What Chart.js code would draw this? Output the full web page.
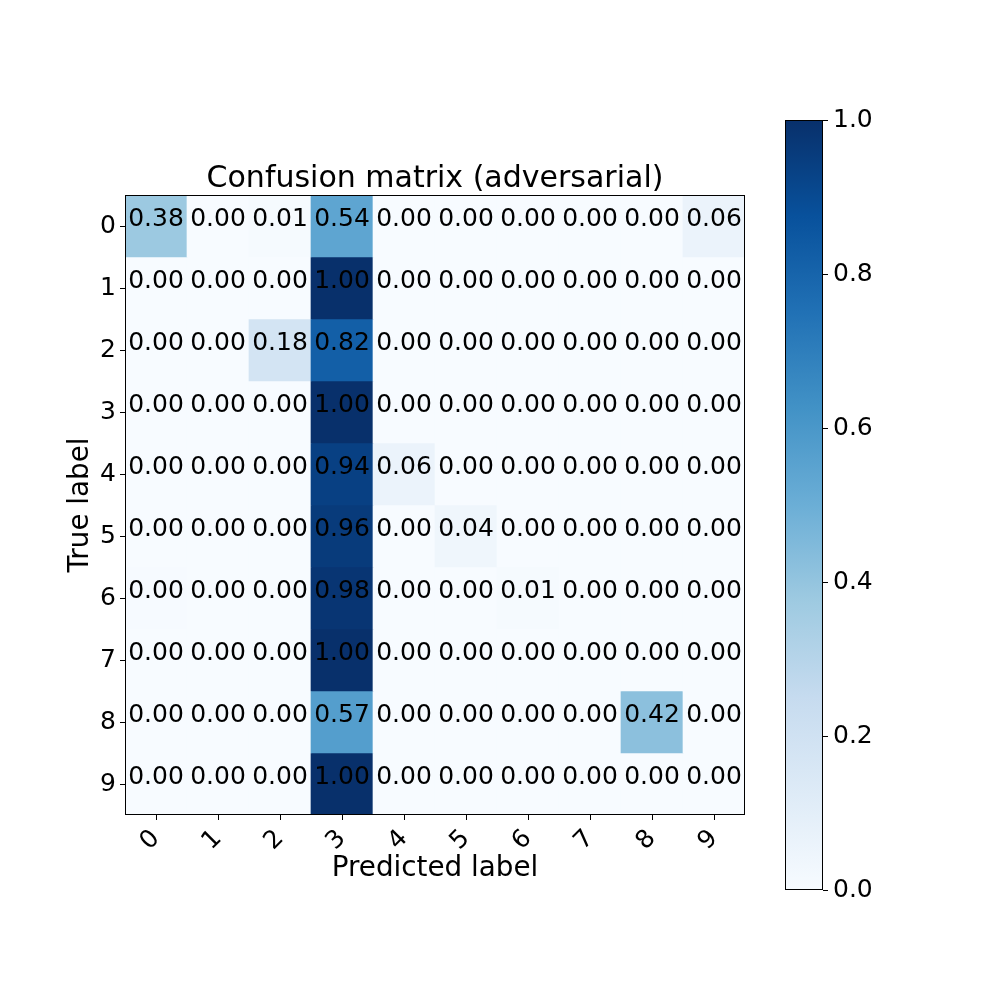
<!DOCTYPE html>
<html>
<head>
<meta charset="utf-8">
<script src="https://cdn.jsdelivr.net/npm/chart.js@4.4.1/dist/chart.umd.min.js"></script>
<style>
  html, body { margin: 0; padding: 0; background: #ffffff; }
  #wrap { position: relative; width: 1000px; height: 1000px; }
  canvas { position: absolute; left: 0; top: 0; }
</style>
</head>
<body>
<div id="wrap">
  <canvas id="cm" width="1000" height="1000"></canvas>
  <canvas id="cb" width="1000" height="1000"></canvas>
</div>
<script>
// ---------- data ----------
const trueLabels = ['0','1','2','3','4','5','6','7','8','9'];
const predLabels = ['0','1','2','3','4','5','6','7','8','9'];
const row0 = [0.38, 0.00, 0.01, 0.54, 0.00, 0.00, 0.00, 0.00, 0.00, 0.06];
const row1 = [0.00, 0.00, 0.00, 1.00, 0.00, 0.00, 0.00, 0.00, 0.00, 0.00];
const row2 = [0.00, 0.00, 0.18, 0.82, 0.00, 0.00, 0.00, 0.00, 0.00, 0.00];
const row3 = [0.00, 0.00, 0.00, 1.00, 0.00, 0.00, 0.00, 0.00, 0.00, 0.00];
const row4 = [0.00, 0.00, 0.00, 0.94, 0.06, 0.00, 0.00, 0.00, 0.00, 0.00];
const row5 = [0.00, 0.00, 0.00, 0.96, 0.00, 0.04, 0.00, 0.00, 0.00, 0.00];
const row6 = [0.004, 0.00, 0.00, 0.98, 0.00, 0.00, 0.01, 0.00, 0.00, 0.00];
const row7 = [0.00, 0.00, 0.00, 1.00, 0.00, 0.00, 0.00, 0.00, 0.00, 0.00];
const row8 = [0.00, 0.00, 0.00, 0.57, 0.00, 0.00, 0.00, 0.00, 0.42, 0.00];
const row9 = [0.00, 0.00, 0.00, 1.00, 0.00, 0.00, 0.00, 0.00, 0.00, 0.00];
const matrix = [row0, row1, row2, row3, row4, row5, row6, row7, row8, row9];
const colorbarTicks = [0.0, 0.2, 0.4, 0.6, 0.8, 1.0];
const titleText = 'Confusion matrix (adversarial)';

// ---------- colormap (matplotlib Blues) ----------
const bluesStops = ['#f7fbff','#deebf7','#c6dbef','#9ecae1','#6baed6','#4292c6','#2171b5','#08519c','#08306b'];
function hexRgb(h){ return [parseInt(h.substr(1,2),16), parseInt(h.substr(3,2),16), parseInt(h.substr(5,2),16)]; }
function blues(v){
  v = Math.max(0, Math.min(1, v));
  const n = bluesStops.length - 1;
  const p = v * n;
  const i = Math.min(Math.floor(p), n - 1);
  const t = p - i;
  const a = hexRgb(bluesStops[i]), b = hexRgb(bluesStops[i+1]);
  const c = a.map((x, k) => Math.round(x + (b[k] - x) * t));
  return 'rgb(' + c.join(',') + ')';
}

const FONT = 'DejaVu Sans';
Chart.defaults.font.family = FONT;
Chart.defaults.color = '#000';

// ---------- main heatmap ----------
const cellPlugin = {
  id: 'cells',
  afterDatasetsDraw(chart) {
    const ctx = chart.ctx, xs = chart.scales.x, ys = chart.scales.y, a = chart.chartArea;
    ctx.save();
    ctx.fillStyle = '#000';
    ctx.font = '25px "' + FONT + '"';
    ctx.textAlign = 'center';
    ctx.textBaseline = 'alphabetic';
    matrix.forEach((row, r) => {
      row.forEach((v, c) => {
        ctx.fillText(v.toFixed(2), xs.getPixelForValue(c), ys.getPixelForValue(r));
      });
    });
    // frame
    ctx.strokeStyle = '#000';
    ctx.lineWidth = 1;
    ctx.strokeRect(Math.round(a.left) + 0.5, Math.round(a.top) + 0.5, Math.round(a.right - a.left) - 1, Math.round(a.bottom - a.top) - 1);
    // title
    ctx.font = '30px "' + FONT + '"';
    ctx.textAlign = 'center';
    ctx.textBaseline = 'alphabetic';
    ctx.fillText(titleText, (a.left + a.right) / 2, a.top - 8);
    ctx.restore();
  }
};

new Chart(document.getElementById('cm'), {
  type: 'bar',
  data: {
    labels: predLabels,
    datasets: matrix.map((row, r) => ({
      data: row.map(() => [r - 0.5, r + 0.5]),
      backgroundColor: row.map(v => blues(v)),
      borderWidth: 0,
      barPercentage: 1,
      categoryPercentage: 1,
      grouped: false
    }))
  },
  options: {
    responsive: false,
    animation: false,
    devicePixelRatio: 1,
    layout: { padding: { left: 60, right: 255, top: 195, bottom: 111 } },
    plugins: { legend: { display: false }, tooltip: { enabled: false }, title: { display: false } },
    scales: {
      x: {
        type: 'category',
        offset: true,
        grid: { display: true, offset: false, drawOnChartArea: false, drawTicks: true, tickLength: 5, color: '#000', lineWidth: 1 },
        border: { display: false },
        ticks: { font: { size: 25 }, color: '#000', minRotation: 45, maxRotation: 45, padding: 4, autoSkip: false },
        title: { display: true, text: 'Predicted label', font: { size: 27.8 }, color: '#000', padding: { top: 0, bottom: 4 } },
        afterFit(s) { s.height = 74; }
      },
      y: {
        type: 'linear',
        reverse: true,
        min: -0.5,
        max: 9.5,
        afterBuildTicks(s) { s.ticks = trueLabels.map((_, i) => ({ value: i })); },
        grid: { display: true, drawOnChartArea: false, drawTicks: true, tickLength: 5, color: '#000', lineWidth: 1 },
        border: { display: false },
        ticks: { font: { size: 25 }, color: '#000', padding: 4, callback: (v) => trueLabels[v] },
        title: { display: true, text: 'True label', font: { size: 27.8 }, color: '#000', padding: { top: 4, bottom: 0 } },
        afterFit(s) { s.width = 65; }
      }
    }
  },
  plugins: [cellPlugin]
});

// ---------- colorbar ----------
const framePlugin = {
  id: 'frame',
  afterDatasetsDraw(chart) {
    const ctx = chart.ctx, a = chart.chartArea;
    ctx.save();
    ctx.strokeStyle = '#000';
    ctx.lineWidth = 1;
    ctx.strokeRect(Math.round(a.left) + 0.5, Math.round(a.top) + 0.5, Math.round(a.right - a.left) - 1, Math.round(a.bottom - a.top) - 1);
    ctx.restore();
  }
};

new Chart(document.getElementById('cb'), {
  type: 'bar',
  data: {
    labels: [''],
    datasets: [{
      data: [[colorbarTicks[0], colorbarTicks[colorbarTicks.length - 1]]],
      backgroundColor(c) {
        const a = c.chart.chartArea;
        if (!a) return bluesStops[4];
        const g = c.chart.ctx.createLinearGradient(0, a.bottom, 0, a.top);
        bluesStops.forEach((col, i) => g.addColorStop(i / (bluesStops.length - 1), col));
        return g;
      },
      borderWidth: 0,
      barPercentage: 1,
      categoryPercentage: 1
    }]
  },
  options: {
    responsive: false,
    animation: false,
    devicePixelRatio: 1,
    layout: { padding: { left: 785, right: 117, top: 120, bottom: 110 } },
    plugins: { legend: { display: false }, tooltip: { enabled: false } },
    scales: {
      x: { display: false, offset: true },
      y: {
        position: 'right',
        min: 0,
        max: 1,
        afterBuildTicks(s) { s.ticks = colorbarTicks.map(v => ({ value: v })); },
        grid: { display: true, drawOnChartArea: false, drawTicks: true, tickLength: 5, color: '#000', lineWidth: 1 },
        border: { display: false },
        ticks: { font: { size: 25 }, color: '#000', padding: 5, callback: (v) => Number(v).toFixed(1) },
        afterFit(s) { s.width = 60; }
      }
    }
  },
  plugins: [framePlugin]
});
</script>
</body>
</html>
